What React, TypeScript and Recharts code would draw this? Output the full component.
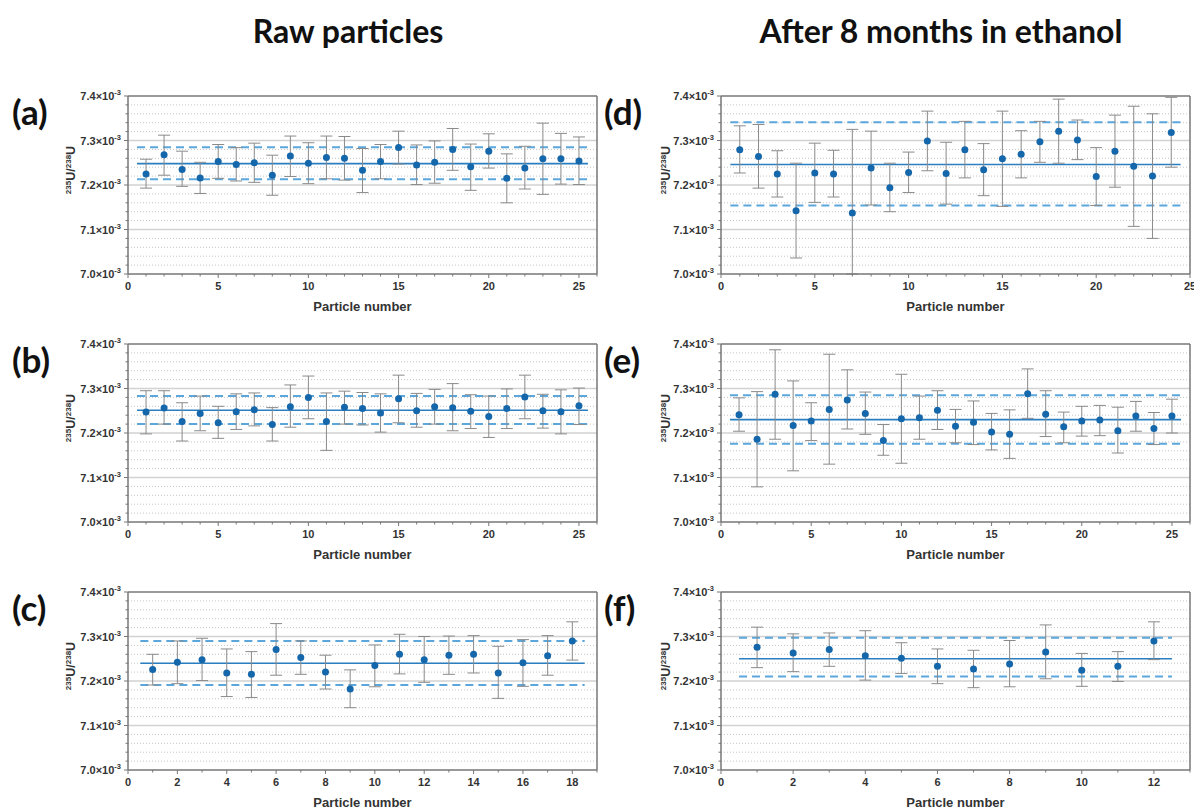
import React from "react";
import { ErrorBar, ReferenceLine, Scatter, ScatterChart, XAxis, YAxis } from "recharts";

// all ratios are in units of 10^-3
const yMajor = [7.0, 7.1, 7.2, 7.3, 7.4];
const yMinor = [
  7.02, 7.04, 7.06, 7.08, 7.12, 7.14, 7.16, 7.18, 7.22, 7.24, 7.26, 7.28, 7.32, 7.34, 7.36, 7.38,
];
const yTicks = [...yMajor, ...yMinor].sort((a, b) => a - b);
const Y_MIN = 7.0;
const Y_MAX = 7.4;

// (a) raw particles, set 1
const particlesA = [1, 2, 3, 4, 5, 6, 7, 8, 9, 10, 11, 12, 13, 14, 15, 16, 17, 18, 19, 20, 21, 22, 23, 24, 25];
const ratioA = [7.225, 7.268, 7.235, 7.216, 7.253, 7.246, 7.25, 7.222, 7.265, 7.249, 7.262, 7.26, 7.233, 7.253, 7.284, 7.245, 7.251, 7.28, 7.241, 7.276, 7.215, 7.238, 7.259, 7.259, 7.254];
const lowA = [7.193, 7.222, 7.197, 7.181, 7.215, 7.209, 7.206, 7.177, 7.219, 7.203, 7.214, 7.211, 7.183, 7.214, 7.247, 7.201, 7.204, 7.233, 7.188, 7.238, 7.16, 7.191, 7.179, 7.202, 7.201];
const highA = [7.258, 7.312, 7.276, 7.251, 7.291, 7.284, 7.294, 7.267, 7.31, 7.295, 7.31, 7.309, 7.282, 7.291, 7.321, 7.29, 7.299, 7.327, 7.292, 7.315, 7.27, 7.287, 7.339, 7.316, 7.308];
const limitsA = [7.213, 7.248, 7.285];

// (b) raw particles, set 2
const particlesB = [1, 2, 3, 4, 5, 6, 7, 8, 9, 10, 11, 12, 13, 14, 15, 16, 17, 18, 19, 20, 21, 22, 23, 24, 25];
const ratioB = [7.247, 7.256, 7.226, 7.244, 7.223, 7.248, 7.252, 7.219, 7.259, 7.28, 7.226, 7.258, 7.255, 7.245, 7.277, 7.25, 7.259, 7.257, 7.249, 7.237, 7.255, 7.281, 7.25, 7.248, 7.261];
const lowB = [7.198, 7.22, 7.182, 7.205, 7.188, 7.208, 7.216, 7.182, 7.213, 7.232, 7.161, 7.22, 7.218, 7.202, 7.223, 7.213, 7.22, 7.205, 7.21, 7.19, 7.21, 7.232, 7.211, 7.198, 7.219];
const highB = [7.295, 7.295, 7.268, 7.283, 7.26, 7.288, 7.29, 7.257, 7.308, 7.328, 7.29, 7.294, 7.291, 7.288, 7.33, 7.289, 7.298, 7.311, 7.286, 7.283, 7.299, 7.33, 7.287, 7.297, 7.301];
const limitsB = [7.22, 7.251, 7.283];

// (c) raw particles, set 3
const particlesC = [1, 2, 3, 4, 5, 6, 7, 8, 9, 10, 11, 12, 13, 14, 15, 16, 17, 18];
const ratioC = [7.226, 7.242, 7.248, 7.218, 7.215, 7.271, 7.253, 7.22, 7.182, 7.235, 7.26, 7.248, 7.258, 7.26, 7.218, 7.241, 7.257, 7.29];
const lowC = [7.191, 7.194, 7.201, 7.165, 7.163, 7.213, 7.215, 7.182, 7.14, 7.187, 7.216, 7.197, 7.215, 7.218, 7.161, 7.188, 7.213, 7.247];
const highC = [7.26, 7.29, 7.296, 7.272, 7.266, 7.329, 7.29, 7.258, 7.225, 7.281, 7.305, 7.3, 7.301, 7.302, 7.278, 7.293, 7.302, 7.333];
const limitsC = [7.191, 7.24, 7.29];

// (d) after 8 months in ethanol, set 1
const particlesD = [1, 2, 3, 4, 5, 6, 7, 8, 9, 10, 11, 12, 13, 14, 15, 16, 17, 18, 19, 20, 21, 22, 23, 24];
const ratioD = [7.279, 7.264, 7.225, 7.142, 7.227, 7.225, 7.137, 7.238, 7.194, 7.228, 7.299, 7.226, 7.279, 7.234, 7.259, 7.269, 7.297, 7.321, 7.301, 7.219, 7.276, 7.242, 7.22, 7.318];
const lowD = [7.227, 7.193, 7.173, 7.036, 7.161, 7.173, 6.95, 7.155, 7.14, 7.183, 7.232, 7.157, 7.216, 7.176, 7.152, 7.216, 7.251, 7.249, 7.257, 7.154, 7.195, 7.107, 7.08, 7.24];
const highD = [7.333, 7.336, 7.277, 7.249, 7.294, 7.278, 7.325, 7.321, 7.249, 7.274, 7.366, 7.296, 7.343, 7.293, 7.366, 7.322, 7.343, 7.393, 7.346, 7.284, 7.357, 7.377, 7.36, 7.397];
const limitsD = [7.154, 7.246, 7.341];

// (e) after 8 months in ethanol, set 2
const particlesE = [1, 2, 3, 4, 5, 6, 7, 8, 9, 10, 11, 12, 13, 14, 15, 16, 17, 18, 19, 20, 21, 22, 23, 24, 25];
const ratioE = [7.241, 7.186, 7.287, 7.217, 7.227, 7.253, 7.274, 7.244, 7.183, 7.232, 7.234, 7.251, 7.215, 7.224, 7.202, 7.197, 7.288, 7.242, 7.214, 7.227, 7.229, 7.205, 7.238, 7.21, 7.238];
const lowE = [7.204, 7.079, 7.186, 7.115, 7.183, 7.13, 7.209, 7.197, 7.15, 7.132, 7.186, 7.208, 7.178, 7.174, 7.162, 7.143, 7.233, 7.192, 7.178, 7.193, 7.194, 7.155, 7.204, 7.174, 7.2];
const highE = [7.279, 7.293, 7.387, 7.317, 7.268, 7.377, 7.342, 7.292, 7.219, 7.332, 7.283, 7.295, 7.253, 7.272, 7.244, 7.252, 7.344, 7.295, 7.247, 7.26, 7.262, 7.258, 7.271, 7.246, 7.276];
const limitsE = [7.176, 7.23, 7.285];

// (f) after 8 months in ethanol, set 3
const particlesF = [1, 2, 3, 4, 5, 6, 7, 8, 9, 10, 11, 12];
const ratioF = [7.276, 7.263, 7.271, 7.257, 7.251, 7.233, 7.227, 7.238, 7.265, 7.224, 7.233, 7.29];
const lowF = [7.23, 7.221, 7.233, 7.202, 7.217, 7.194, 7.185, 7.187, 7.205, 7.188, 7.199, 7.248];
const highF = [7.321, 7.306, 7.308, 7.313, 7.286, 7.272, 7.269, 7.291, 7.326, 7.262, 7.266, 7.333];
const limitsF = [7.21, 7.25, 7.297];

const xTicks26 = [0, 1, 2, 3, 4, 5, 6, 7, 8, 9, 10, 11, 12, 13, 14, 15, 16, 17, 18, 19, 20, 21, 22, 23, 24, 25, 26];
const xTicks25 = xTicks26.slice(0, 26);
const xTicks19 = xTicks26.slice(0, 20);
const xTicks13 = xTicks26.slice(0, 14);
const xMajor5 = [0, 5, 10, 15, 20, 25];
const xMajor2 = [0, 2, 4, 6, 8, 10, 12, 14, 16, 18];

const DOT = "#1567ab";
const MEAN = "#2b7fc1";
const LIMIT = "#5ba6db";
const FRAME = "#777";
const TICK_FONT = "'Liberation Sans', Arial, sans-serif";

type PanelProps = {
  left: number;
  top: number;
  width: number;
  rightMargin: number;
  particles: number[];
  ratio: number[];
  low: number[];
  high: number[];
  limits: number[];
  xMax: number;
  xTicks: number[];
  xMajor: number[];
};

function Panel(p: PanelProps) {
  // error bars are cut at the frame, like the original plot
  const rows = p.particles.map((x, i) => ({
    x,
    y: p.ratio[i],
    err: [p.ratio[i] - Math.max(p.low[i], Y_MIN), Math.min(p.high[i], Y_MAX) - p.ratio[i]],
  }));
  const x0 = p.particles[0] - 0.5;
  const x1 = p.particles[p.particles.length - 1] + 0.5;

  const xTick = (props: any) => {
    const { x, y, payload } = props;
    const major = p.xMajor.includes(payload.value);
    return (
      <g>
        <line x1={x} x2={x} y1={y} y2={y + (major ? 4 : 2.5)} stroke={FRAME} strokeWidth={1} />
        {major && (
          <text x={x} y={y + 16} textAnchor="middle" fontSize={11} fontWeight={700} fill="#333" fontFamily={TICK_FONT}>
            {payload.value}
          </text>
        )}
      </g>
    );
  };

  const yTick = (props: any) => {
    const { x, y, payload } = props;
    const major = yMajor.includes(payload.value);
    return (
      <g>
        <line x1={x - (major ? 4 : 2.5)} x2={x} y1={y} y2={y} stroke={FRAME} strokeWidth={1} />
        {major && (
          <text x={x - 7} y={y + 4} textAnchor="end" fontSize={11} fontWeight={700} fill="#333" fontFamily={TICK_FONT}>
            <tspan>{payload.value.toFixed(1)}×10</tspan>
            <tspan dy={-5} fontSize={7.5}>-3</tspan>
          </text>
        )}
      </g>
    );
  };

  return (
    <div style={{ position: "absolute", left: p.left, top: p.top }}>
      <ScatterChart width={p.width} height={233} margin={{ top: 10, right: p.rightMargin, bottom: 0, left: 8 }}>
        {yMinor.map((v) => (
          <ReferenceLine key={"m" + v} y={v} stroke="#c4c4c4" strokeDasharray="1 2" />
        ))}
        {[7.1, 7.2, 7.3].map((v) => (
          <ReferenceLine key={"M" + v} y={v} stroke="#d2d2d2" strokeWidth={1.3} />
        ))}
        <ReferenceLine y={Y_MAX} stroke={FRAME} strokeWidth={1.5} />
        <ReferenceLine x={p.xMax} stroke={FRAME} strokeWidth={1.5} />
        <XAxis
          type="number"
          dataKey="x"
          domain={[0, p.xMax]}
          ticks={p.xTicks}
          interval={0}
          tick={xTick}
          tickSize={0}
          tickMargin={0}
          tickLine={false}
          axisLine={{ stroke: FRAME, strokeWidth: 1.5 }}
          height={45}
          label={{
            value: "Particle number",
            position: "insideBottom",
            offset: 8,
            fill: "#333",
            fontSize: 13,
            fontWeight: 700,
            fontFamily: TICK_FONT,
          }}
        />
        <YAxis
          type="number"
          dataKey="y"
          domain={[Y_MIN, Y_MAX]}
          allowDataOverflow
          ticks={yTicks}
          interval={0}
          tick={yTick}
          tickSize={0}
          tickMargin={0}
          tickLine={false}
          axisLine={{ stroke: FRAME, strokeWidth: 1.5 }}
          width={60}
        />
        <ReferenceLine
          segment={[
            { x: x0, y: p.limits[0] },
            { x: x1, y: p.limits[0] },
          ]}
          stroke={LIMIT}
          strokeWidth={2}
          strokeDasharray="8 5"
        />
        <ReferenceLine
          segment={[
            { x: x0, y: p.limits[2] },
            { x: x1, y: p.limits[2] },
          ]}
          stroke={LIMIT}
          strokeWidth={2}
          strokeDasharray="8 5"
        />
        <ReferenceLine
          segment={[
            { x: x0, y: p.limits[1] },
            { x: x1, y: p.limits[1] },
          ]}
          stroke={MEAN}
          strokeWidth={1.6}
        />
        <Scatter
          data={rows}
          isAnimationActive={false}
          shape={(s: any) => <circle cx={s.cx} cy={s.cy} r={3.5} fill={DOT} />}
        >
          <ErrorBar dataKey="err" direction="y" width={6} stroke="#8a8a8a" strokeWidth={1} />
        </Scatter>
      </ScatterChart>
    </div>
  );
}

const TITLE_FONT = "Lato, 'Open Sans', sans-serif";

function YLabel({ cx, cy }: { cx: number; cy: number }) {
  return (
    <text
      transform={`translate(${cx},${cy}) rotate(-90)`}
      textAnchor="middle"
      y={4.5}
      fontSize={12.5}
      fontWeight={700}
      fill="#333"
      fontFamily={TICK_FONT}
    >
      <tspan fontSize={8} dy={-4}>235</tspan>
      <tspan dy={4}>U/</tspan>
      <tspan fontSize={8} dy={-4}>238</tspan>
      <tspan dy={4}>U</tspan>
    </text>
  );
}

export default function App() {
  const leftCol = { left: 60, width: 560, rightMargin: 23 };
  const rightCol = { left: 653, width: 541, rightMargin: 4 };
  const rowTops = [86, 334, 582];
  const letters = ["(a)", "(b)", "(c)", "(d)", "(e)", "(f)"];

  return (
    <div
      style={{
        position: "absolute",
        left: 0,
        top: 0,
        width: 1194,
        height: 809,
        background: "#fff",
        overflow: "hidden",
      }}
    >
      <Panel {...leftCol} top={rowTops[0]} particles={particlesA} ratio={ratioA} low={lowA} high={highA} limits={limitsA} xMax={26} xTicks={xTicks26} xMajor={xMajor5} />
      <Panel {...leftCol} top={rowTops[1]} particles={particlesB} ratio={ratioB} low={lowB} high={highB} limits={limitsB} xMax={26} xTicks={xTicks26} xMajor={xMajor5} />
      <Panel {...leftCol} top={rowTops[2]} particles={particlesC} ratio={ratioC} low={lowC} high={highC} limits={limitsC} xMax={19} xTicks={xTicks19} xMajor={xMajor2} />
      <Panel {...rightCol} top={rowTops[0]} particles={particlesD} ratio={ratioD} low={lowD} high={highD} limits={limitsD} xMax={25} xTicks={xTicks25} xMajor={xMajor5} />
      <Panel {...rightCol} top={rowTops[1]} particles={particlesE} ratio={ratioE} low={lowE} high={highE} limits={limitsE} xMax={26} xTicks={xTicks26} xMajor={xMajor5} />
      <Panel {...rightCol} top={rowTops[2]} particles={particlesF} ratio={ratioF} low={lowF} high={highF} limits={limitsF} xMax={13} xTicks={xTicks13} xMajor={xMajor2} />

      <svg width={1194} height={809} style={{ position: "absolute", left: 0, top: 0, pointerEvents: "none" }}>
        <text x={348} y={43} textAnchor="middle" fontSize={32} fontWeight={700} fontFamily={TITLE_FONT} fill="#111">
          Raw particles
        </text>
        <text x={941} y={43} textAnchor="middle" fontSize={32} fontWeight={700} fontFamily={TITLE_FONT} fill="#111">
          After 8 months in ethanol
        </text>
        {letters.map((l, i) => (
          <text
            key={l}
            x={i < 3 ? 12 : 604}
            y={125 + (i % 3) * 248}
            fontSize={35}
            fontWeight={700}
            fontFamily={TITLE_FONT}
            fill="#111"
          >
            {l}
          </text>
        ))}
        {rowTops.map((t, i) => (
          <React.Fragment key={i}>
            <YLabel cx={70} cy={t + 84} />
            <YLabel cx={665} cy={t + 84} />
          </React.Fragment>
        ))}
      </svg>
    </div>
  );
}
